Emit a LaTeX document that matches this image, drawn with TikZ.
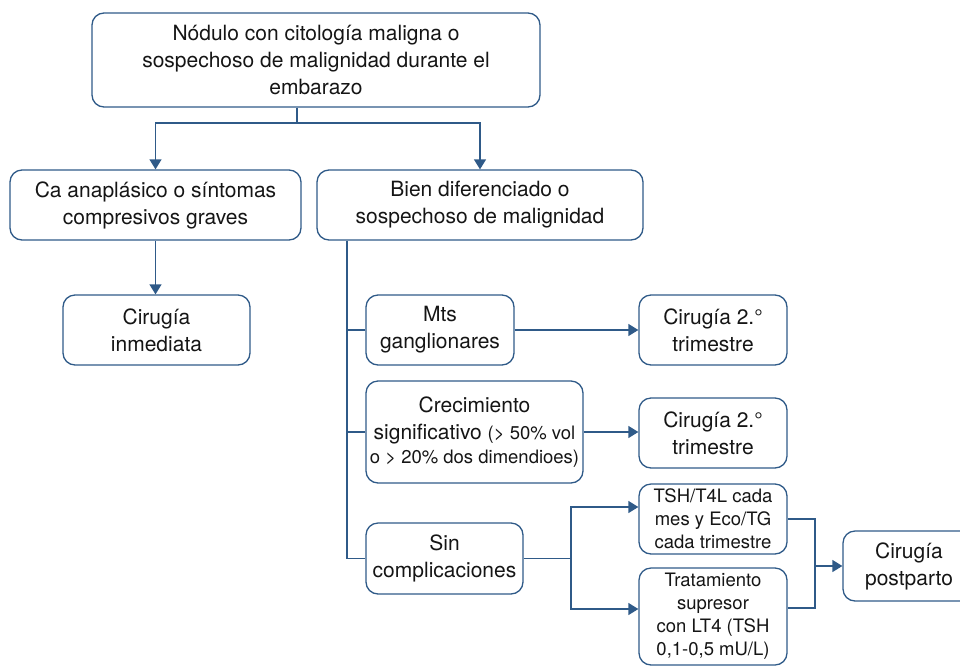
\documentclass[tikz,border=0pt]{standalone}
\usepackage{fontspec}
\setmainfont{TeX Gyre Heros}
\usetikzlibrary{arrows.meta}
\definecolor{lineblue}{HTML}{2F5A88}
\definecolor{txt}{HTML}{151515}
\tikzset{
  box/.style={draw=lineblue, line width=1.3pt, rounded corners=12pt, align=center, inner sep=0pt, text=txt,
    font=\fontsize{21}{27}\selectfont},
  smallbox/.style={box, font=\fontsize{18.5}{23}\selectfont},
  conn/.style={draw=lineblue, line width=1.3pt},
  arr/.style={conn, -{Triangle[length=10pt,width=12pt]}},
}
\begin{document}
\begin{tikzpicture}[x=1pt,y=-1pt]
\useasboundingbox (0,0) rectangle (960,667);
\node[box, minimum width=448pt, minimum height=94pt] (top) at (316,60) {Nódulo con citología maligna o\\ sospechoso de malignidad durante el\\ embarazo};
\node[box, minimum width=291pt, minimum height=70pt] (ca) at (155.5,205) {Ca anaplásico o síntomas\\ compresivos graves};
\node[box, minimum width=326pt, minimum height=70pt] (bien) at (480,205) {Bien diferenciado o\\ sospechoso de malignidad};
\node[box, minimum width=187pt, minimum height=70pt] (inm) at (156.5,330) {Cirugía\\ inmediata};
\node[box, minimum width=148pt, minimum height=70pt] (mts) at (440,330) {Mts\\ ganglionares};
\node[box, minimum width=148pt, minimum height=70pt] (cir1) at (713,330) {Cirugía 2.°\\ trimestre};
\node[box, minimum width=217pt, minimum height=102pt] (crec) at (474.5,432) {Crecimiento\\ significativo {\fontsize{18.5}{23}\selectfont (> 50\% vol}\\[-3pt] {\fontsize{18.5}{23}\selectfont o > 20\% dos dimendioes)}};
\node[box, minimum width=148pt, minimum height=70pt] (cir2) at (713,433) {Cirugía 2.°\\ trimestre};
\node[box, minimum width=157pt, minimum height=71pt] (sin) at (444.5,558.5) {Sin\\ complicaciones};
\node[smallbox, minimum width=148pt, minimum height=70pt] (tsh) at (713,519) {TSH/T4L cada\\ mes y Eco/TG\\ cada trimestre};
\node[smallbox, minimum width=148pt, minimum height=97pt] (trat) at (713,616.5) {Tratamiento\\ supresor\\ con LT4 (TSH\\ 0,1-0,5 mU/L)};
\node[box, minimum width=132pt, minimum height=70pt] (post) at (909,566) {Cirugía\\ postparto};

\coordinate (j1) at (297,123);
\draw[conn] (j1 |- top.south) -- (j1);
\draw[arr] (j1) -| (ca.north);
\draw[arr] (j1) -| (bien.north);
\draw[arr] (ca.south) -- (ca.south |- inm.north);

\coordinate (v) at (347,558.5);
\draw[conn] (bien.south -| v) -- (v) -- (sin.west);
\draw[conn] (mts.west) -- (mts.west -| v);
\draw[conn] (crec.west) -- (crec.west -| v);
\draw[arr] (mts.east) -- (cir1.west);
\draw[arr] (crec.east) -- (crec.east -| cir2.west);

\coordinate (b) at (571,558.5);
\draw[conn] (sin.east) -- (b);
\draw[arr] (b) |- (tsh.west |- 0,507);
\draw[arr] (b) |- (trat.west |- 0,609);

\coordinate (m) at (815,566);
\draw[conn] (tsh.east) -| (m);
\draw[conn] (trat.east |- 0,608) -| (m);
\draw[arr] (m) -- (post.west);
\end{tikzpicture}
\end{document}
